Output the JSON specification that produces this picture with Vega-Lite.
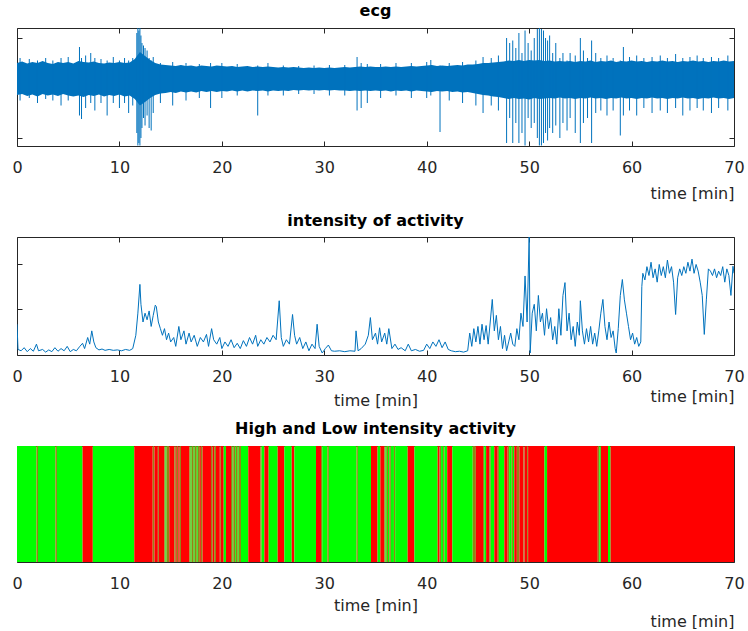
{
  "$schema": "https://vega.github.io/schema/vega-lite/v6.json",
  "padding": {"left": 11, "top": 2, "right": 5, "bottom": 0},
  "bounds": "flush",
  "spacing": 91,
  "config": {
    "view": {"stroke": null},
    "font": "DejaVu Sans",
    "title": {"font": "DejaVu Sans", "fontSize": 16, "fontWeight": "bold", "color": "#000000", "baseline": "alphabetic", "anchor": "middle"},
    "axis": {"domainColor": "#262626", "tickColor": "#262626", "labelColor": "#262626", "labelFont": "DejaVu Sans", "labelFontSize": 16, "titleFont": "DejaVu Sans", "titleFontSize": 16, "titleFontWeight": "normal", "titleColor": "#262626", "grid": false, "zindex": 1, "tickSize": -5, "domainWidth": 1, "tickWidth": 1, "labelFlush": false, "labelOverlap": false}
  },
  "datasets": {
    "ecgband": [
      {"t":0,"lo":-0.14,"hi":0.50},{"t":0.5,"lo":-0.12,"hi":0.53},{"t":1,"lo":-0.16,"hi":0.49},{"t":1.5,"lo":-0.13,"hi":0.52},{"t":2,"lo":-0.17,"hi":0.50},{"t":2.5,"lo":-0.12,"hi":0.54},{"t":3,"lo":-0.15,"hi":0.50},{"t":3.5,"lo":-0.13,"hi":0.48},{"t":4,"lo":-0.16,"hi":0.52},{"t":4.5,"lo":-0.12,"hi":0.50},{"t":5,"lo":-0.15,"hi":0.52},{"t":5.5,"lo":-0.17,"hi":0.49},{"t":6,"lo":-0.15,"hi":0.54},{"t":6.5,"lo":-0.18,"hi":0.52},{"t":7,"lo":-0.14,"hi":0.51},{"t":7.5,"lo":-0.16,"hi":0.53},{"t":8,"lo":-0.13,"hi":0.50},{"t":8.5,"lo":-0.17,"hi":0.49},{"t":9,"lo":-0.14,"hi":0.51},{"t":9.5,"lo":-0.16,"hi":0.50},{"t":10,"lo":-0.13,"hi":0.52},{"t":10.5,"lo":-0.17,"hi":0.50},{"t":11,"lo":-0.15,"hi":0.51},{"t":11.5,"lo":-0.22,"hi":0.58},{"t":12,"lo":-0.35,"hi":0.72},{"t":12.5,"lo":-0.28,"hi":0.64},{"t":13,"lo":-0.2,"hi":0.56},{"t":13.5,"lo":-0.14,"hi":0.5},{"t":14,"lo":-0.11,"hi":0.47},{"t":14.5,"lo":-0.1,"hi":0.46},{"t":15,"lo":-0.08,"hi":0.45},{"t":15.5,"lo":-0.1,"hi":0.44},{"t":16,"lo":-0.07,"hi":0.46},{"t":16.5,"lo":-0.09,"hi":0.44},{"t":17,"lo":-0.07,"hi":0.45},{"t":17.5,"lo":-0.09,"hi":0.43},{"t":18,"lo":-0.06,"hi":0.45},{"t":18.5,"lo":-0.08,"hi":0.44},{"t":19,"lo":-0.06,"hi":0.43},{"t":19.5,"lo":-0.08,"hi":0.45},{"t":20,"lo":-0.06,"hi":0.44},{"t":20.5,"lo":-0.07,"hi":0.43},{"t":21,"lo":-0.05,"hi":0.44},{"t":21.5,"lo":-0.07,"hi":0.42},{"t":22,"lo":-0.05,"hi":0.43},{"t":22.5,"lo":-0.07,"hi":0.44},{"t":23,"lo":-0.05,"hi":0.42},{"t":23.5,"lo":-0.06,"hi":0.43},{"t":24,"lo":-0.05,"hi":0.42},{"t":24.5,"lo":-0.07,"hi":0.43},{"t":25,"lo":-0.05,"hi":0.42},{"t":25.5,"lo":-0.06,"hi":0.41},{"t":26,"lo":-0.05,"hi":0.42},{"t":26.5,"lo":-0.06,"hi":0.41},{"t":27,"lo":-0.04,"hi":0.42},{"t":27.5,"lo":-0.05,"hi":0.41},{"t":28,"lo":-0.04,"hi":0.40},{"t":28.5,"lo":-0.05,"hi":0.41},{"t":29,"lo":-0.04,"hi":0.40},{"t":29.5,"lo":-0.05,"hi":0.41},{"t":30,"lo":-0.04,"hi":0.40},{"t":30.5,"lo":-0.05,"hi":0.41},{"t":31,"lo":-0.04,"hi":0.40},{"t":31.5,"lo":-0.05,"hi":0.41},{"t":32,"lo":-0.05,"hi":0.42},{"t":32.5,"lo":-0.06,"hi":0.41},{"t":33,"lo":-0.05,"hi":0.42},{"t":33.5,"lo":-0.06,"hi":0.43},{"t":34,"lo":-0.05,"hi":0.42},{"t":34.5,"lo":-0.06,"hi":0.43},{"t":35,"lo":-0.05,"hi":0.42},{"t":35.5,"lo":-0.06,"hi":0.42},{"t":36,"lo":-0.05,"hi":0.43},{"t":36.5,"lo":-0.07,"hi":0.42},{"t":37,"lo":-0.05,"hi":0.43},{"t":37.5,"lo":-0.06,"hi":0.42},{"t":38,"lo":-0.05,"hi":0.43},{"t":38.5,"lo":-0.07,"hi":0.44},{"t":39,"lo":-0.05,"hi":0.43},{"t":39.5,"lo":-0.06,"hi":0.44},{"t":40,"lo":-0.07,"hi":0.45},{"t":40.5,"lo":-0.08,"hi":0.46},{"t":41,"lo":-0.06,"hi":0.44},{"t":41.5,"lo":-0.07,"hi":0.45},{"t":42,"lo":-0.06,"hi":0.44},{"t":42.5,"lo":-0.08,"hi":0.45},{"t":43,"lo":-0.07,"hi":0.46},{"t":43.5,"lo":-0.09,"hi":0.45},{"t":44,"lo":-0.08,"hi":0.47},{"t":44.5,"lo":-0.1,"hi":0.47},{"t":45,"lo":-0.12,"hi":0.48},{"t":45.5,"lo":-0.14,"hi":0.5},{"t":46,"lo":-0.15,"hi":0.5},{"t":46.5,"lo":-0.17,"hi":0.51},{"t":47,"lo":-0.18,"hi":0.52},{"t":47.5,"lo":-0.2,"hi":0.53},{"t":48,"lo":-0.22,"hi":0.55},{"t":48.5,"lo":-0.2,"hi":0.54},{"t":49,"lo":-0.22,"hi":0.56},{"t":49.5,"lo":-0.21,"hi":0.54},{"t":50,"lo":-0.23,"hi":0.56},{"t":50.5,"lo":-0.2,"hi":0.55},{"t":51,"lo":-0.22,"hi":0.56},{"t":51.5,"lo":-0.21,"hi":0.54},{"t":52,"lo":-0.2,"hi":0.55},{"t":52.5,"lo":-0.21,"hi":0.53},{"t":53,"lo":-0.19,"hi":0.54},{"t":53.5,"lo":-0.21,"hi":0.53},{"t":54,"lo":-0.2,"hi":0.54},{"t":54.5,"lo":-0.22,"hi":0.52},{"t":55,"lo":-0.2,"hi":0.54},{"t":55.5,"lo":-0.21,"hi":0.53},{"t":56,"lo":-0.19,"hi":0.55},{"t":56.5,"lo":-0.21,"hi":0.52},{"t":57,"lo":-0.2,"hi":0.54},{"t":57.5,"lo":-0.22,"hi":0.53},{"t":58,"lo":-0.2,"hi":0.55},{"t":58.5,"lo":-0.21,"hi":0.52},{"t":59,"lo":-0.19,"hi":0.54},{"t":59.5,"lo":-0.21,"hi":0.53},{"t":60,"lo":-0.2,"hi":0.55},{"t":60.5,"lo":-0.22,"hi":0.53},{"t":61,"lo":-0.2,"hi":0.54},{"t":61.5,"lo":-0.21,"hi":0.52},{"t":62,"lo":-0.19,"hi":0.54},{"t":62.5,"lo":-0.21,"hi":0.53},{"t":63,"lo":-0.2,"hi":0.55},{"t":63.5,"lo":-0.22,"hi":0.53},{"t":64,"lo":-0.2,"hi":0.54},{"t":64.5,"lo":-0.21,"hi":0.52},{"t":65,"lo":-0.19,"hi":0.54},{"t":65.5,"lo":-0.21,"hi":0.53},{"t":66,"lo":-0.2,"hi":0.55},{"t":66.5,"lo":-0.22,"hi":0.53},{"t":67,"lo":-0.2,"hi":0.54},{"t":67.5,"lo":-0.21,"hi":0.52},{"t":68,"lo":-0.19,"hi":0.54},{"t":68.5,"lo":-0.21,"hi":0.53},{"t":69,"lo":-0.2,"hi":0.55},{"t":69.5,"lo":-0.22,"hi":0.53},{"t":70,"lo":-0.2,"hi":0.54}
    ],
    "ecgspikes": [
      {"t":0.3,"lo":-0.25,"hi":0.6},{"t":1.2,"lo":-0.2,"hi":0.58},{"t":2.0,"lo":-0.3,"hi":0.55},{"t":2.8,"lo":-0.22,"hi":0.6},{"t":3.5,"lo":-0.25,"hi":0.55},{"t":4.3,"lo":-0.35,"hi":0.6},{"t":5.0,"lo":-0.25,"hi":0.62},{"t":6.1,"lo":-0.55,"hi":0.82},{"t":6.3,"lo":-0.62,"hi":0.6},{"t":6.7,"lo":-0.4,"hi":0.65},{"t":7.2,"lo":-0.3,"hi":0.7},{"t":7.6,"lo":-0.45,"hi":0.6},{"t":8.2,"lo":-0.3,"hi":0.58},{"t":8.8,"lo":-0.55,"hi":0.55},{"t":9.4,"lo":-0.3,"hi":0.62},{"t":10.0,"lo":-0.4,"hi":0.55},{"t":10.5,"lo":-0.3,"hi":0.6},{"t":10.9,"lo":-0.5,"hi":0.55},{"t":11.3,"lo":-0.35,"hi":0.6},
      {"t":11.7,"lo":-0.9,"hi":1.1},{"t":11.8,"lo":-1.15,"hi":1.2},{"t":11.9,"lo":-1.1,"hi":1.15},{"t":12.0,"lo":-1.15,"hi":1.2},{"t":12.1,"lo":-1.0,"hi":1.05},{"t":12.2,"lo":-0.8,"hi":0.9},{"t":12.35,"lo":-0.6,"hi":0.85},{"t":12.5,"lo":-0.75,"hi":0.8},{"t":12.7,"lo":-0.55,"hi":0.75},{"t":12.9,"lo":-0.8,"hi":0.6},{"t":13.1,"lo":-0.85,"hi":0.55},{"t":13.3,"lo":-0.5,"hi":0.62},
      {"t":14.0,"lo":-0.3,"hi":0.5},{"t":15.2,"lo":-0.35,"hi":0.52},{"t":16.5,"lo":-0.25,"hi":0.5},{"t":17.8,"lo":-0.2,"hi":0.48},{"t":18.9,"lo":-0.4,"hi":0.5},{"t":20.0,"lo":-0.2,"hi":0.5},{"t":21.5,"lo":-0.15,"hi":0.48},{"t":23.5,"lo":-0.55,"hi":0.45},{"t":24.5,"lo":-0.15,"hi":0.5},{"t":26.0,"lo":-0.15,"hi":0.45},{"t":27.5,"lo":-0.12,"hi":0.44},{"t":29.0,"lo":-0.12,"hi":0.45},{"t":30.5,"lo":-0.15,"hi":0.46},{"t":32.0,"lo":-0.15,"hi":0.46},{"t":33.2,"lo":-0.45,"hi":0.62},{"t":33.6,"lo":-0.4,"hi":0.5},{"t":34.2,"lo":-0.3,"hi":0.48},{"t":35.5,"lo":-0.2,"hi":0.48},{"t":37.0,"lo":-0.15,"hi":0.5},{"t":38.5,"lo":-0.2,"hi":0.5},{"t":40.0,"lo":-0.2,"hi":0.52},{"t":40.4,"lo":-0.15,"hi":0.56},{"t":41.3,"lo":-0.88,"hi":0.45},{"t":42.2,"lo":-0.25,"hi":0.5},{"t":43.5,"lo":-0.3,"hi":0.52},{"t":44.8,"lo":-0.35,"hi":0.55},{"t":45.5,"lo":-0.5,"hi":0.62},{"t":46.3,"lo":-0.35,"hi":0.6},{"t":47.0,"lo":-0.45,"hi":0.65},
      {"t":47.8,"lo":-1.1,"hi":1.0},{"t":48.1,"lo":-0.6,"hi":0.9},{"t":48.4,"lo":-1.1,"hi":0.95},{"t":48.7,"lo":-0.7,"hi":0.8},{"t":49.0,"lo":-1.1,"hi":1.1},{"t":49.3,"lo":-0.9,"hi":0.7},{"t":49.6,"lo":-1.15,"hi":1.15},{"t":49.9,"lo":-0.6,"hi":0.9},{"t":50.2,"lo":-0.8,"hi":0.75},{"t":50.5,"lo":-0.7,"hi":1.0},{"t":50.8,"lo":-1.0,"hi":1.18},{"t":51.0,"lo":-1.15,"hi":1.2},{"t":51.2,"lo":-1.15,"hi":1.18},{"t":51.4,"lo":-1.1,"hi":1.15},{"t":51.6,"lo":-0.9,"hi":1.0},{"t":51.8,"lo":-1.05,"hi":0.95},{"t":52.0,"lo":-0.8,"hi":1.05},{"t":52.3,"lo":-0.9,"hi":0.7},{"t":52.6,"lo":-0.75,"hi":0.9},{"t":53.0,"lo":-1.0,"hi":0.6},{"t":53.3,"lo":-0.7,"hi":0.7},{"t":53.7,"lo":-0.85,"hi":0.55},{"t":54.0,"lo":-0.6,"hi":0.7},{"t":54.5,"lo":-0.9,"hi":0.65},{"t":55.0,"lo":-1.1,"hi":1.0},{"t":55.3,"lo":-0.7,"hi":0.75},{"t":55.7,"lo":-0.6,"hi":0.6},{"t":56.1,"lo":-1.1,"hi":0.95},{"t":56.5,"lo":-0.5,"hi":0.7},{"t":57.0,"lo":-0.45,"hi":0.6},{"t":57.6,"lo":-0.55,"hi":0.65},{"t":58.2,"lo":-0.45,"hi":0.6},{"t":58.9,"lo":-0.95,"hi":0.55},{"t":59.2,"lo":-0.55,"hi":0.82},{"t":59.8,"lo":-0.45,"hi":0.62},{"t":60.5,"lo":-0.55,"hi":0.65},{"t":61.2,"lo":-0.4,"hi":0.6},{"t":62.0,"lo":-0.5,"hi":0.62},{"t":62.8,"lo":-0.45,"hi":0.65},{"t":63.5,"lo":-0.5,"hi":0.6},{"t":64.3,"lo":-0.4,"hi":0.68},{"t":65.0,"lo":-0.55,"hi":0.6},{"t":65.7,"lo":-0.45,"hi":0.62},{"t":66.4,"lo":-0.4,"hi":0.65},{"t":67.0,"lo":-0.45,"hi":0.6},{"t":67.8,"lo":-0.5,"hi":0.62},{"t":68.5,"lo":-0.4,"hi":0.6},{"t":69.4,"lo":-0.45,"hi":0.65}
    ],
    "intensity": [
      {"t":0,"v":0.65},{"t":0.1,"v":0.08},{"t":0.4,"v":0.05},{"t":0.7,"v":0.12},{"t":1.0,"v":0.03},{"t":1.3,"v":0.1},{"t":1.6,"v":0.04},{"t":1.9,"v":0.2},{"t":2.1,"v":0.05},{"t":2.5,"v":0.08},{"t":2.8,"v":0.02},{"t":3.1,"v":0.07},{"t":3.4,"v":0.03},{"t":3.7,"v":0.12},{"t":4.0,"v":0.04},{"t":4.3,"v":0.1},{"t":4.6,"v":0.05},{"t":4.9,"v":0.15},{"t":5.2,"v":0.03},{"t":5.5,"v":0.08},{"t":5.8,"v":0.05},{"t":6.1,"v":0.14},{"t":6.4,"v":0.22},{"t":6.6,"v":0.1},{"t":6.9,"v":0.35},{"t":7.1,"v":0.2},{"t":7.3,"v":0.5},{"t":7.5,"v":0.25},{"t":7.7,"v":0.12},{"t":8.0,"v":0.07},{"t":8.3,"v":0.09},{"t":8.6,"v":0.06},{"t":9.0,"v":0.08},{"t":9.4,"v":0.06},{"t":9.8,"v":0.07},{"t":10.2,"v":0.05},{"t":10.6,"v":0.08},{"t":11.0,"v":0.06},{"t":11.3,"v":0.1},{"t":11.6,"v":0.4},{"t":11.8,"v":0.9},{"t":12.0,"v":1.55},{"t":12.1,"v":1.1},{"t":12.3,"v":0.7},{"t":12.5,"v":0.9},{"t":12.7,"v":0.75},{"t":12.9,"v":0.95},{"t":13.1,"v":0.6},{"t":13.3,"v":0.85},{"t":13.5,"v":1.08},{"t":13.6,"v":1.05},{"t":13.8,"v":0.7},{"t":14.0,"v":0.55},{"t":14.2,"v":0.4},{"t":14.4,"v":0.55},{"t":14.6,"v":0.3},{"t":14.8,"v":0.45},{"t":15.0,"v":0.25},{"t":15.3,"v":0.35},{"t":15.5,"v":0.15},{"t":15.8,"v":0.6},{"t":16.0,"v":0.3},{"t":16.3,"v":0.5},{"t":16.5,"v":0.2},{"t":16.8,"v":0.45},{"t":17.0,"v":0.25},{"t":17.3,"v":0.4},{"t":17.6,"v":0.15},{"t":17.9,"v":0.35},{"t":18.2,"v":0.25},{"t":18.5,"v":0.42},{"t":18.7,"v":0.15},{"t":19.0,"v":0.55},{"t":19.2,"v":0.3},{"t":19.5,"v":0.2},{"t":19.8,"v":0.35},{"t":20.0,"v":0.1},{"t":20.3,"v":0.25},{"t":20.6,"v":0.15},{"t":20.9,"v":0.3},{"t":21.2,"v":0.12},{"t":21.5,"v":0.22},{"t":21.8,"v":0.1},{"t":22.1,"v":0.28},{"t":22.4,"v":0.15},{"t":22.7,"v":0.35},{"t":23.0,"v":0.2},{"t":23.3,"v":0.4},{"t":23.5,"v":0.15},{"t":23.8,"v":0.3},{"t":24.1,"v":0.2},{"t":24.4,"v":0.35},{"t":24.7,"v":0.25},{"t":25.0,"v":0.4},{"t":25.3,"v":0.3},{"t":25.6,"v":1.18},{"t":25.8,"v":0.35},{"t":26.0,"v":0.15},{"t":26.3,"v":0.3},{"t":26.6,"v":0.2},{"t":26.9,"v":0.87},{"t":27.1,"v":0.4},{"t":27.3,"v":0.2},{"t":27.6,"v":0.35},{"t":27.9,"v":0.1},{"t":28.2,"v":0.25},{"t":28.5,"v":0.05},{"t":28.8,"v":0.2},{"t":29.1,"v":0.1},{"t":29.3,"v":0.65},{"t":29.5,"v":0.15},{"t":29.8,"v":0.0},{"t":30.1,"v":0.1},{"t":30.4,"v":0.18},{"t":30.7,"v":0.05},{"t":31.0,"v":0.04},{"t":31.5,"v":0.05},{"t":32.0,"v":0.03},{"t":32.5,"v":0.05},{"t":33.0,"v":0.04},{"t":33.1,"v":0.5},{"t":33.3,"v":0.05},{"t":33.6,"v":0.1},{"t":34.0,"v":0.2},{"t":34.3,"v":0.4},{"t":34.5,"v":0.8},{"t":34.7,"v":0.3},{"t":35.0,"v":0.45},{"t":35.2,"v":0.2},{"t":35.4,"v":0.57},{"t":35.6,"v":0.25},{"t":35.9,"v":0.45},{"t":36.1,"v":0.2},{"t":36.3,"v":0.55},{"t":36.6,"v":0.1},{"t":36.9,"v":0.2},{"t":37.2,"v":0.08},{"t":37.5,"v":0.12},{"t":37.9,"v":0.05},{"t":38.2,"v":0.2},{"t":38.5,"v":0.05},{"t":38.9,"v":0.08},{"t":39.3,"v":0.04},{"t":39.7,"v":0.06},{"t":40.0,"v":0.2},{"t":40.3,"v":0.1},{"t":40.6,"v":0.25},{"t":40.9,"v":0.15},{"t":41.2,"v":0.3},{"t":41.5,"v":0.12},{"t":41.8,"v":0.25},{"t":42.1,"v":0.08},{"t":42.4,"v":0.05},{"t":42.8,"v":0.03},{"t":43.2,"v":0.04},{"t":43.6,"v":0.02},{"t":44.0,"v":0.05},{"t":44.2,"v":0.45},{"t":44.4,"v":0.15},{"t":44.6,"v":0.55},{"t":44.8,"v":0.25},{"t":45.0,"v":0.6},{"t":45.2,"v":0.2},{"t":45.4,"v":0.65},{"t":45.6,"v":0.3},{"t":45.8,"v":0.62},{"t":46.0,"v":0.2},{"t":46.2,"v":0.7},{"t":46.4,"v":1.21},{"t":46.6,"v":0.5},{"t":46.8,"v":0.85},{"t":47.0,"v":0.3},{"t":47.2,"v":0.6},{"t":47.4,"v":0.1},{"t":47.6,"v":0.4},{"t":47.8,"v":0.05},{"t":48.0,"v":0.25},{"t":48.2,"v":0.45},{"t":48.4,"v":0.2},{"t":48.6,"v":0.15},{"t":48.8,"v":0.55},{"t":49.0,"v":0.3},{"t":49.2,"v":0.9},{"t":49.4,"v":0.6},{"t":49.6,"v":1.74},{"t":49.8,"v":0.7},{"t":50.0,"v":2.62},{"t":50.1,"v":0.0},{"t":50.3,"v":0.9},{"t":50.5,"v":1.1},{"t":50.7,"v":0.5},{"t":50.9,"v":1.3},{"t":51.1,"v":0.7},{"t":51.3,"v":0.9},{"t":51.5,"v":0.4},{"t":51.7,"v":1.0},{"t":51.9,"v":0.55},{"t":52.1,"v":0.8},{"t":52.3,"v":0.3},{"t":52.5,"v":0.6},{"t":52.7,"v":0.2},{"t":52.9,"v":1.0},{"t":53.1,"v":0.4},{"t":53.3,"v":1.3},{"t":53.5,"v":1.59},{"t":53.7,"v":0.5},{"t":53.9,"v":0.9},{"t":54.1,"v":0.3},{"t":54.3,"v":0.6},{"t":54.5,"v":0.15},{"t":54.7,"v":0.7},{"t":54.9,"v":0.4},{"t":55.0,"v":1.18},{"t":55.2,"v":0.5},{"t":55.4,"v":0.2},{"t":55.6,"v":0.55},{"t":55.8,"v":0.25},{"t":56.0,"v":0.6},{"t":56.2,"v":0.2},{"t":56.4,"v":0.45},{"t":56.6,"v":0.15},{"t":56.8,"v":0.5},{"t":57.0,"v":0.9},{"t":57.2,"v":1.21},{"t":57.4,"v":0.6},{"t":57.6,"v":0.3},{"t":57.8,"v":0.7},{"t":58.0,"v":0.35},{"t":58.2,"v":0.5},{"t":58.4,"v":0.1},{"t":58.5,"v":0.0},{"t":58.7,"v":0.55},{"t":58.9,"v":1.3},{"t":59.1,"v":1.66},{"t":59.3,"v":1.2},{"t":59.5,"v":0.9},{"t":59.7,"v":0.6},{"t":59.9,"v":0.3},{"t":60.1,"v":0.45},{"t":60.3,"v":0.2},{"t":60.5,"v":0.35},{"t":60.7,"v":0.15},{"t":60.9,"v":0.25},{"t":61.0,"v":1.5},{"t":61.1,"v":1.8},{"t":61.3,"v":1.65},{"t":61.5,"v":1.95},{"t":61.7,"v":1.75},{"t":61.9,"v":2.05},{"t":62.1,"v":1.7},{"t":62.3,"v":1.9},{"t":62.5,"v":1.6},{"t":62.7,"v":2.0},{"t":62.9,"v":1.75},{"t":63.1,"v":1.95},{"t":63.3,"v":1.7},{"t":63.5,"v":2.1},{"t":63.7,"v":1.8},{"t":63.9,"v":1.95},{"t":64.1,"v":1.6},{"t":64.3,"v":0.87},{"t":64.5,"v":1.7},{"t":64.7,"v":1.9},{"t":64.9,"v":1.75},{"t":65.1,"v":1.95},{"t":65.3,"v":1.8},{"t":65.5,"v":2.05},{"t":65.7,"v":1.85},{"t":65.9,"v":2.12},{"t":66.1,"v":1.8},{"t":66.3,"v":2.0},{"t":66.5,"v":1.85},{"t":66.7,"v":1.6},{"t":66.9,"v":1.3},{"t":67.1,"v":0.42},{"t":67.3,"v":1.2},{"t":67.5,"v":1.9},{"t":67.7,"v":1.85},{"t":67.9,"v":1.75},{"t":68.1,"v":1.9},{"t":68.3,"v":1.7},{"t":68.5,"v":1.85},{"t":68.7,"v":1.75},{"t":68.9,"v":1.95},{"t":69.1,"v":1.6},{"t":69.3,"v":1.9},{"t":69.5,"v":1.75},{"t":69.7,"v":1.3},{"t":69.9,"v":1.96},{"t":70.0,"v":1.8}
    ],
    "segments": [
      {"start":0,"end":1.9,"state":"low"},{"start":1.9,"end":2.05,"state":"transition"},{"start":2.05,"end":3.75,"state":"low"},{"start":3.75,"end":3.9,"state":"transition"},{"start":3.9,"end":6.4,"state":"low"},{"start":6.4,"end":7.4,"state":"high"},{"start":7.4,"end":11.45,"state":"low"},{"start":11.45,"end":13.25,"state":"high"},{"start":13.25,"end":13.42,"state":"transition"},{"start":13.42,"end":13.75,"state":"high"},{"start":13.75,"end":13.85,"state":"transition"},{"start":13.85,"end":14.38,"state":"high"},{"start":14.38,"end":14.5,"state":"transition"},{"start":14.5,"end":14.6,"state":"low"},{"start":14.6,"end":14.87,"state":"transition"},{"start":14.87,"end":15.36,"state":"high"},{"start":15.36,"end":15.5,"state":"transition"},{"start":15.5,"end":15.6,"state":"high"},{"start":15.6,"end":15.75,"state":"transition"},{"start":15.75,"end":15.88,"state":"high"},{"start":15.88,"end":16.01,"state":"transition"},{"start":16.01,"end":16.82,"state":"high"},{"start":16.82,"end":16.95,"state":"transition"},{"start":16.95,"end":17.05,"state":"low"},{"start":17.05,"end":17.25,"state":"transition"},{"start":17.25,"end":17.35,"state":"low"},{"start":17.35,"end":17.55,"state":"transition"},{"start":17.55,"end":17.65,"state":"low"},{"start":17.65,"end":17.85,"state":"transition"},{"start":17.85,"end":17.95,"state":"high"},{"start":17.95,"end":18.12,"state":"transition"},{"start":18.12,"end":18.94,"state":"high"},{"start":18.94,"end":19.1,"state":"transition"},{"start":19.1,"end":19.25,"state":"high"},{"start":19.25,"end":19.43,"state":"transition"},{"start":19.43,"end":19.8,"state":"high"},{"start":19.8,"end":19.9,"state":"transition"},{"start":19.9,"end":20.18,"state":"high"},{"start":20.18,"end":20.4,"state":"low"},{"start":20.4,"end":20.89,"state":"high"},{"start":20.89,"end":21.05,"state":"transition"},{"start":21.05,"end":21.12,"state":"low"},{"start":21.12,"end":21.3,"state":"transition"},{"start":21.3,"end":21.38,"state":"low"},{"start":21.38,"end":21.55,"state":"transition"},{"start":21.55,"end":21.65,"state":"low"},{"start":21.65,"end":21.87,"state":"transition"},{"start":21.87,"end":22.58,"state":"low"},{"start":22.58,"end":23.76,"state":"high"},{"start":23.76,"end":23.88,"state":"transition"},{"start":23.88,"end":24.15,"state":"low"},{"start":24.15,"end":24.57,"state":"high"},{"start":24.57,"end":25.45,"state":"low"},{"start":25.45,"end":26.1,"state":"high"},{"start":26.1,"end":26.82,"state":"low"},{"start":26.82,"end":27.08,"state":"high"},{"start":27.08,"end":29.19,"state":"low"},{"start":29.19,"end":29.68,"state":"high"},{"start":29.68,"end":29.8,"state":"transition"},{"start":29.8,"end":30.3,"state":"low"},{"start":30.3,"end":30.45,"state":"transition"},{"start":30.45,"end":33.15,"state":"low"},{"start":33.15,"end":33.28,"state":"transition"},{"start":33.28,"end":34.56,"state":"low"},{"start":34.56,"end":35.2,"state":"high"},{"start":35.2,"end":35.47,"state":"low"},{"start":35.47,"end":35.86,"state":"high"},{"start":35.86,"end":35.98,"state":"transition"},{"start":35.98,"end":36.1,"state":"low"},{"start":36.1,"end":36.22,"state":"transition"},{"start":36.22,"end":36.35,"state":"low"},{"start":36.35,"end":36.5,"state":"transition"},{"start":36.5,"end":36.8,"state":"low"},{"start":36.8,"end":36.92,"state":"transition"},{"start":36.92,"end":38.14,"state":"low"},{"start":38.14,"end":38.8,"state":"high"},{"start":38.8,"end":41.07,"state":"low"},{"start":41.07,"end":41.25,"state":"high"},{"start":41.25,"end":41.4,"state":"transition"},{"start":41.4,"end":41.6,"state":"low"},{"start":41.6,"end":41.72,"state":"transition"},{"start":41.72,"end":42.0,"state":"low"},{"start":42.0,"end":42.5,"state":"high"},{"start":42.5,"end":44.49,"state":"low"},{"start":44.49,"end":44.8,"state":"transition"},{"start":44.8,"end":45.5,"state":"high"},{"start":45.5,"end":45.62,"state":"transition"},{"start":45.62,"end":45.8,"state":"low"},{"start":45.8,"end":46.1,"state":"high"},{"start":46.1,"end":46.25,"state":"transition"},{"start":46.25,"end":46.6,"state":"low"},{"start":46.6,"end":46.93,"state":"high"},{"start":46.93,"end":47.05,"state":"transition"},{"start":47.05,"end":47.58,"state":"low"},{"start":47.58,"end":47.9,"state":"high"},{"start":47.9,"end":48.05,"state":"transition"},{"start":48.05,"end":48.3,"state":"low"},{"start":48.3,"end":48.42,"state":"transition"},{"start":48.42,"end":48.55,"state":"low"},{"start":48.55,"end":48.8,"state":"high"},{"start":48.8,"end":49.05,"state":"transition"},{"start":49.05,"end":49.45,"state":"high"},{"start":49.45,"end":49.55,"state":"transition"},{"start":49.55,"end":49.8,"state":"high"},{"start":49.8,"end":49.9,"state":"transition"},{"start":49.9,"end":51.5,"state":"high"},{"start":51.5,"end":51.75,"state":"low"},{"start":51.75,"end":56.7,"state":"high"},{"start":56.7,"end":56.85,"state":"transition"},{"start":56.85,"end":57.0,"state":"low"},{"start":57.0,"end":57.7,"state":"high"},{"start":57.7,"end":57.95,"state":"low"},{"start":57.95,"end":70,"state":"high"}
    ]
  },
  "vconcat": [
    {
      "width": 717,
      "height": 118,
      "title": {"text": "ecg", "offset": 9},
      "layer": [
        {
          "data": {"name": "ecgband"},
          "mark": {"type": "area", "color": "#0072BD", "clip": true},
          "encoding": {
            "x": {"field": "t", "type": "quantitative", "scale": {"domain": [0, 70], "nice": false, "zero": false},
                  "axis": {"orient": "bottom", "values": [0,10,20,30,40,50,60,70], "labelPadding": 18, "title": "time [min]", "titleAnchor": "end", "titleBaseline": "alphabetic", "titleY": 52}},
            "y": {"field": "lo", "type": "quantitative", "scale": {"domain": [-1.16, 1.2], "nice": false, "zero": false},
                  "axis": {"orient": "left", "values": [-1, 1], "labels": false, "title": null}},
            "y2": {"field": "hi"}
          }
        },
        {
          "data": {"name": "ecgspikes"},
          "mark": {"type": "rule", "color": "#0072BD", "strokeWidth": 1, "clip": true},
          "encoding": {
            "x": {"field": "t", "type": "quantitative", "axis": {"orient": "top", "values": [0,10,20,30,40,50,60,70], "labels": false, "title": null}},
            "y": {"field": "lo", "type": "quantitative", "axis": {"orient": "right", "values": [-1, 1], "labels": false, "title": null}},
            "y2": {"field": "hi"}
          }
        }
      ],
      "resolve": {"axis": {"x": "independent", "y": "independent"}}
    },
    {
      "width": 717,
      "height": 118,
      "title": {"text": "intensity of activity", "offset": 8},
      "layer": [
        {
          "data": {"name": "intensity"},
          "mark": {"type": "line", "color": "#0072BD", "strokeWidth": 1, "clip": true},
          "encoding": {
            "x": {"field": "t", "type": "quantitative", "scale": {"domain": [0, 70], "nice": false, "zero": false},
                  "axis": {"orient": "bottom", "values": [0,10,20,30,40,50,60,70], "labelPadding": 18, "title": "time [min]", "titleAnchor": "middle", "titleBaseline": "alphabetic", "titleY": 50}},
            "y": {"field": "v", "type": "quantitative", "scale": {"domain": [-0.045, 2.62], "nice": false, "zero": false},
                  "axis": {"orient": "left", "values": [1, 2], "labels": false, "title": null}}
          }
        },
        {
          "data": {"name": "intensity"},
          "mark": {"type": "line", "opacity": 0, "clip": true},
          "encoding": {
            "x": {"field": "t", "type": "quantitative", "axis": {"orient": "top", "values": [0,10,20,30,40,50,60,70], "labels": false, "title": null}},
            "y": {"field": "v", "type": "quantitative", "axis": {"orient": "right", "values": [1, 2], "labels": false, "title": null}}
          }
        },
        {
          "data": {"name": "intensity"},
          "mark": {"type": "line", "opacity": 0, "clip": true},
          "encoding": {
            "x": {"field": "t", "type": "quantitative", "axis": {"orient": "bottom", "labels": false, "ticks": false, "domain": false, "title": "time [min]", "titleAnchor": "end", "titleBaseline": "alphabetic", "titleY": 46}},
            "y": {"field": "v", "type": "quantitative", "axis": null}
          }
        }
      ],
      "resolve": {"axis": {"x": "independent", "y": "independent"}}
    },
    {
      "width": 717,
      "height": 116,
      "title": {"text": "High and Low intensity activity", "offset": 9},
      "layer": [
        {
          "data": {"name": "segments"},
          "mark": {"type": "rect", "clip": true},
          "encoding": {
            "x": {"field": "start", "type": "quantitative", "scale": {"domain": [0, 70], "nice": false, "zero": false},
                  "axis": {"orient": "bottom", "values": [0,10,20,30,40,50,60,70], "labelPadding": 18, "title": "time [min]", "titleAnchor": "middle", "titleBaseline": "alphabetic", "titleY": 48}},
            "x2": {"field": "end"},
            "y": {"datum": 0, "type": "quantitative", "scale": {"domain": [0, 1], "nice": false, "zero": false},
                  "axis": {"orient": "left", "values": [0.5], "labels": false, "title": null}},
            "y2": {"datum": 1},
            "color": {"field": "state", "type": "nominal", "scale": {"domain": ["low", "high", "transition"], "range": ["#00FF00", "#FF0000", "#968214"]}, "legend": null}
          }
        },
        {
          "data": {"name": "segments"},
          "mark": {"type": "rect", "opacity": 0, "clip": true},
          "encoding": {
            "x": {"field": "start", "type": "quantitative", "axis": {"orient": "top", "values": [0,10,20,30,40,50,60,70], "labels": false, "title": null}},
            "x2": {"field": "end"},
            "y": {"datum": 0, "type": "quantitative", "axis": {"orient": "right", "values": [0.5], "labels": false, "title": null}},
            "y2": {"datum": 1}
          }
        },
        {
          "data": {"name": "segments"},
          "mark": {"type": "rect", "opacity": 0, "clip": true},
          "encoding": {
            "x": {"field": "start", "type": "quantitative", "axis": {"orient": "bottom", "labels": false, "ticks": false, "domain": false, "title": "time [min]", "titleAnchor": "end", "titleBaseline": "alphabetic", "titleY": 64}},
            "x2": {"field": "end"},
            "y": {"datum": 0, "type": "quantitative", "axis": null},
            "y2": {"datum": 1}
          }
        }
      ],
      "resolve": {"axis": {"x": "independent", "y": "independent"}}
    }
  ]
}
